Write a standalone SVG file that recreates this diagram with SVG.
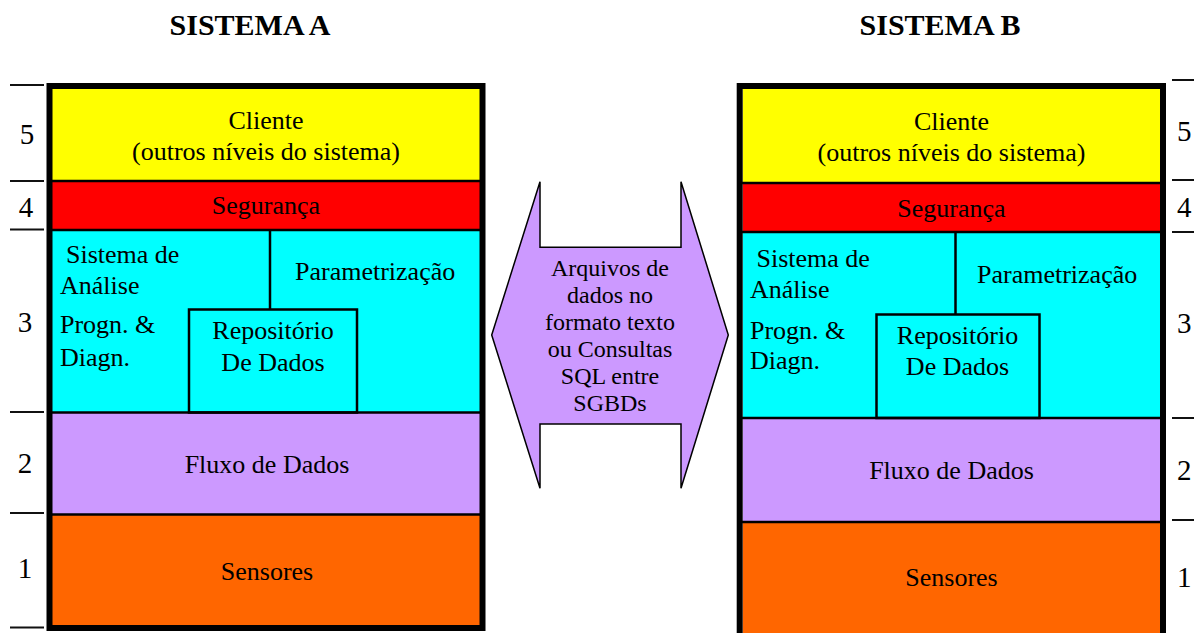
<svg xmlns="http://www.w3.org/2000/svg" width="1194" height="633" viewBox="0 0 1194 633" font-family="'Liberation Serif', 'Times New Roman', serif">
<style>
text{font-family:"Liberation Serif","Times New Roman",Times,serif;fill:#000}
.t{font-size:26px}
.c{text-anchor:middle}
.n{font-size:29px}
.ttl{font-size:30px;font-weight:bold;text-anchor:middle}
.sep{stroke:#000;stroke-width:2.5}
.tick{stroke:#111;stroke-width:2}
.frame{fill:none;stroke:#000;stroke-width:6}
.inner{fill:none;stroke:#000;stroke-width:2.5}
.at{font-size:24px;text-anchor:middle}
</style>
<rect width="1194" height="633" fill="#fff"/>
<text class="ttl" x="250" y="35">SISTEMA A</text>
<text class="ttl" x="940" y="35">SISTEMA B</text>

<g id="sistemaA">
  <rect x="52" y="89" width="428" height="92" fill="#FFFF00"/>
  <rect x="52" y="181" width="428" height="49" fill="#FF0000"/>
  <rect x="52" y="230" width="428" height="182.5" fill="#00FFFF"/>
  <rect x="52" y="412.5" width="428" height="102" fill="#CC99FF"/>
  <rect x="52" y="514.5" width="428" height="111" fill="#FF6600"/>
  <line class="sep" x1="52" y1="181" x2="480" y2="181"/>
  <line class="sep" x1="52" y1="230" x2="480" y2="230"/>
  <line class="sep" x1="52" y1="412.5" x2="480" y2="412.5"/>
  <line class="sep" x1="52" y1="514.5" x2="480" y2="514.5"/>
  <line class="inner" x1="270" y1="230" x2="270" y2="309.5"/>
  <rect class="inner" x="189" y="309.5" width="168" height="103"/>
  <rect class="frame" x="49.5" y="86" width="433" height="542"/>
  <text class="t c" x="266" y="129">Cliente</text>
  <text class="t c" x="266" y="160">(outros níveis do sistema)</text>
  <text class="t c" x="266" y="214">Segurança</text>
  <text class="t" x="66" y="263">Sistema de</text>
  <text class="t" x="60" y="294">Análise</text>
  <text class="t" x="60" y="333">Progn. &amp;</text>
  <text class="t" x="60" y="366">Diagn.</text>
  <text class="t" x="295" y="280">Parametrização</text>
  <text class="t c" x="273" y="339">Repositório</text>
  <text class="t c" x="273" y="371">De Dados</text>
  <text class="t c" x="267" y="473">Fluxo de Dados</text>
  <text class="t c" x="267" y="580">Sensores</text>
</g>

<g id="escalaA">
  <line class="tick" x1="10" y1="85" x2="44" y2="85"/>
  <line class="tick" x1="10" y1="181" x2="44" y2="181"/>
  <line class="tick" x1="10" y1="229.5" x2="44" y2="229.5"/>
  <line class="tick" x1="10" y1="412" x2="44" y2="412"/>
  <line class="tick" x1="10" y1="513" x2="44" y2="513"/>
  <line class="tick" x1="10" y1="627.5" x2="44" y2="627.5"/>
  <text class="n c" x="27" y="144">5</text>
  <text class="n c" x="26" y="217">4</text>
  <text class="n c" x="25" y="332">3</text>
  <text class="n c" x="25" y="473">2</text>
  <text class="n c" x="25" y="578">1</text>
</g>

<g id="sistemaB">
  <rect x="742.7" y="89" width="417.3" height="94" fill="#FFFF00"/>
  <rect x="742.7" y="183" width="417.3" height="49" fill="#FF0000"/>
  <rect x="742.7" y="232" width="417.3" height="186" fill="#00FFFF"/>
  <rect x="742.7" y="418" width="417.3" height="104" fill="#CC99FF"/>
  <rect x="742.7" y="522" width="417.3" height="120" fill="#FF6600"/>
  <line class="sep" x1="742" y1="183" x2="1160" y2="183"/>
  <line class="sep" x1="742" y1="232" x2="1160" y2="232"/>
  <line class="sep" x1="742" y1="418" x2="1160" y2="418"/>
  <line class="sep" x1="742" y1="522" x2="1160" y2="522"/>
  <line class="inner" x1="955.5" y1="232" x2="955.5" y2="314.5"/>
  <rect class="inner" x="876.5" y="314.5" width="163" height="103.5"/>
  <rect class="frame" x="739.7" y="86" width="423.3" height="570"/>
  <text class="t c" x="951.5" y="130">Cliente</text>
  <text class="t c" x="951.5" y="161">(outros níveis do sistema)</text>
  <text class="t c" x="951.5" y="217">Segurança</text>
  <text class="t" x="756.5" y="267">Sistema de</text>
  <text class="t" x="750" y="297.5">Análise</text>
  <text class="t" x="750" y="338.5">Progn. &amp;</text>
  <text class="t" x="750" y="369">Diagn.</text>
  <text class="t" x="977" y="283">Parametrização</text>
  <text class="t c" x="957.5" y="344">Repositório</text>
  <text class="t c" x="957.5" y="374.5">De Dados</text>
  <text class="t c" x="951.5" y="478.5">Fluxo de Dados</text>
  <text class="t c" x="951.5" y="586">Sensores</text>
</g>

<g id="escalaB">
  <line class="tick" x1="1172" y1="80" x2="1194" y2="80"/>
  <line class="tick" x1="1172" y1="180" x2="1194" y2="180"/>
  <line class="tick" x1="1172" y1="232" x2="1194" y2="232"/>
  <line class="tick" x1="1172" y1="418" x2="1194" y2="418"/>
  <line class="tick" x1="1172" y1="520" x2="1194" y2="520"/>
  <text class="n" x="1177" y="141">5</text>
  <text class="n" x="1177" y="217">4</text>
  <text class="n" x="1177" y="333">3</text>
  <text class="n" x="1177" y="480">2</text>
  <text class="n" x="1177" y="587">1</text>
</g>

<g id="connectors">
  <g id="troca">
    <polygon points="540,181.7 540,247.3 681,247.3 681,181.7 728.3,335 681,488.3 681,424 540,424 540,488.3 491.7,335" fill="#CC99FF" stroke="#000" stroke-width="1.5" stroke-linejoin="miter"/>
    <text class="at" x="610" y="276">Arquivos de</text>
    <text class="at" x="610" y="303">dados no</text>
    <text class="at" x="610" y="330">formato texto</text>
    <text class="at" x="610" y="357">ou Consultas</text>
    <text class="at" x="610" y="384">SQL entre</text>
    <text class="at" x="610" y="411">SGBDs</text>
  </g>
</g>
</svg>
